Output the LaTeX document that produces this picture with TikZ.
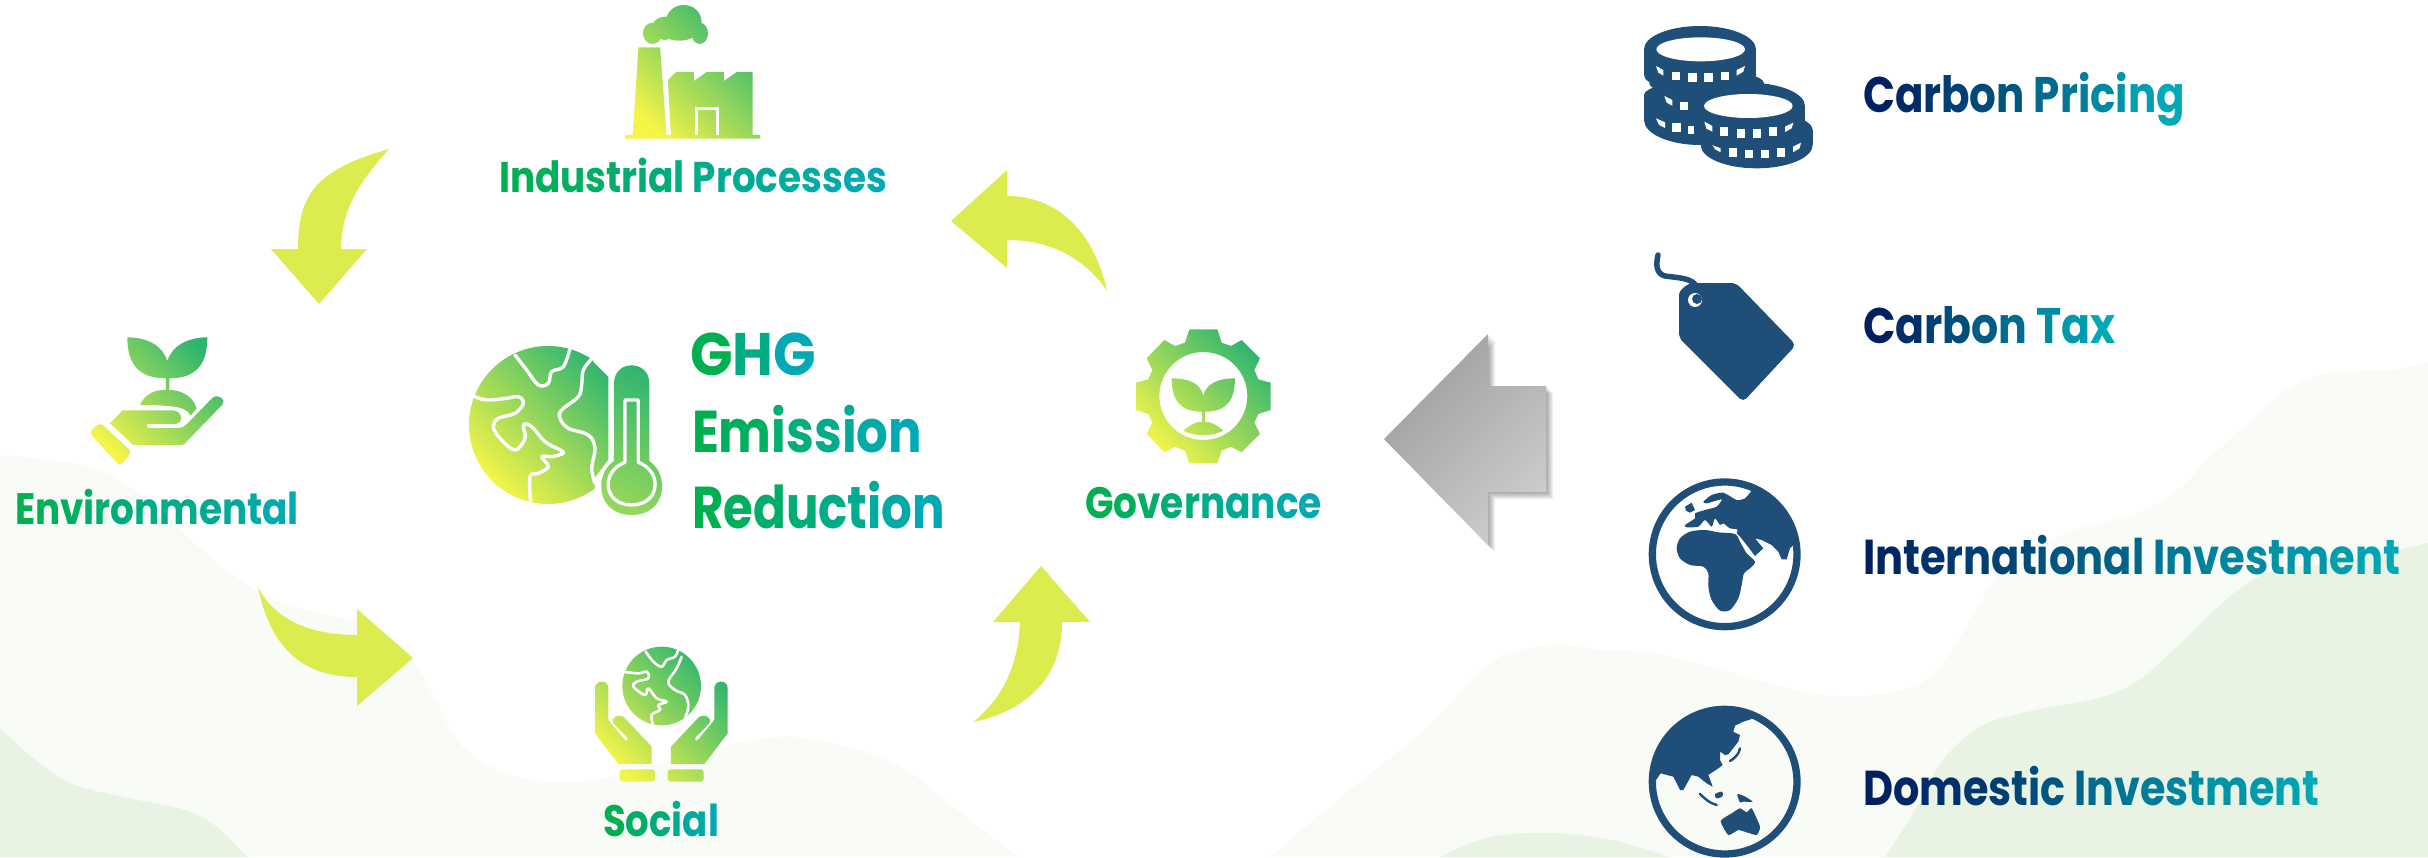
\documentclass[tikz,border=0pt]{standalone}
\usepackage{fontspec}
\usepackage{graphicx}
\setmainfont{Poppins}
\definecolor{bgA}{HTML}{F8FBF6}
\definecolor{bgB}{HTML}{E9F3E4}
\definecolor{arw}{HTML}{DCEC4E}
\definecolor{gy}{HTML}{F4F449}
\definecolor{gg}{HTML}{2FB56F}
\definecolor{gm}{HTML}{95D75C}
\definecolor{navyicon}{HTML}{1F4E79}
\definecolor{tg}{HTML}{00B050}
\definecolor{tt}{HTML}{00A9B5}
\definecolor{tn}{HTML}{002060}
\ExplSyntaxOn
\int_new:N \l_gt_i_int
\int_new:N \l_gt_n_int
\NewDocumentCommand\gtext{mmm}{
  \int_zero:N \l_gt_i_int
  \int_set:Nn \l_gt_n_int {\str_count:n{#3}}
  \str_map_inline:nn {#3} {
    \int_incr:N \l_gt_i_int
    \str_if_eq:nnTF {##1} {|} {\ } {
      \edef\gtcol{#2!\int_eval:n{100*(\l_gt_i_int-1)/(\l_gt_n_int-1)}!#1}
      \textcolor{\gtcol}{##1}
    }
  }
}
\ExplSyntaxOff
\newcommand\lab[6]{\node[lbl] (#1) at (#2,#3) {\resizebox{#4pt}{\height}{\fontsize{#5pt}{#5pt}\selectfont\bfseries\gtext#6}};}
\tikzset{
  lbl/.style={anchor=base west,inner sep=0pt,outer sep=0pt},
  grad/.style={left color=gy,right color=gg,shading angle=135},
  coast/.style={draw=white,line width=3.4pt,line cap=round,line join=round},
  bcoast/.style={draw=white,line width=2.6pt,line cap=round,line join=round},
  icon/.style={fill=navyicon},
  hole/.style={fill=white},
  swoosh/.style={fill=arw}
}
\begin{document}
\begin{tikzpicture}[x=1pt,y=-1pt]
\useasboundingbox (0,0) rectangle (2428,857);
\clip (0,0) rectangle (2428,857);
% background
\fill[bgA] (0,857) -- plot[smooth,tension=0.6] coordinates {(0,455)(64,462)(108,473)(159,510)(210,557)(255,590)(306,610)(357,623)(408,657)(434,697)(459,743)(504,773)(555,782)(612,777)(689,755)(778,737)(848,747)(906,770)(957,810)(1000,843)(1018,857)} -- cycle;
\fill[bgB] (0,857) -- plot[smooth,tension=0.6] coordinates {(0,728)(32,757)(70,783)(128,798)(185,810)(217,827)(247,857)} -- cycle;
\fill[bgA] (1270,857) -- plot[smooth,tension=0.6] coordinates {(1270,857)(1350,790)(1430,725)(1490,663)(1550,645)(1600,650)(1653,653)(1732,673)(1811,693)(1864,696)(1917,685)(1948,657)(1970,620)(1996,577)(2022,553)(2075,530)(2139,512)(2181,487)(2207,460)(2241,430)(2286,390)(2328,373)(2392,370)(2428,362)} -- (2428,857) -- cycle;
\fill[bgB] (2428,857) -- plot[smooth,tension=0.6] coordinates {(2428,543)(2339,563)(2276,570)(2234,593)(2181,643)(2139,680)(2102,697)(2022,713)(1980,727)(1943,760)(1917,807)(1885,857)} -- cycle;
\fill[bgB] (1440,857) -- plot[smooth,tension=0.6] coordinates {(1440,857)(1490,837)(1550,833)(1600,838)(1632,845)(1669,857)} -- cycle;
% swoosh arrows
\fill[swoosh] (389,149) .. controls (315,170) and (298,195) .. (298,249) -- (271,249) -- (319,304) -- (367,249) -- (341,249) .. controls (342,215) and (352,190) .. (389,149) -- cycle;
\fill[swoosh] (258,587) .. controls (275,620) and (310,635) .. (357,635) -- (357,609) -- (413,658) -- (357,706) -- (357,677) .. controls (300,677) and (270,645) .. (258,587) -- cycle;
\fill[swoosh] (973,722) .. controls (1030,710) and (1062,675) .. (1062,622) -- (1090,622) -- (1041,566) -- (993,622) -- (1020,622) .. controls (1018,670) and (1000,700) .. (973,722) -- cycle;
\fill[swoosh] (1107,291) .. controls (1095,235) and (1060,196) .. (1007,196) -- (1007,170) -- (951,221) -- (1007,268) -- (1007,240) .. controls (1050,240) and (1085,258) .. (1107,291) -- cycle;
% grey arrow
\foreach \d in {1,...,7}{
  \fill[black,opacity=0.055,shift={(\d,\d)}] (1384,439) -- (1488,334) -- (1488,386) -- (1546,386) -- (1546,492) -- (1488,492) -- (1488,545) -- cycle;
}
\shade[left color=black!38,right color=black!20,shading angle=45] (1384,439) -- (1488,334) -- (1488,386) -- (1546,386) -- (1546,492) -- (1488,492) -- (1488,545) -- cycle;
% factory
\begin{scope}[x=0.6378pt,y=-0.3333pt]
\shade[grad] (1001,142) -- (1035,142) -- (1045,405) -- (992,405) -- cycle
 (1047,240) -- (1060,216) -- (1088,216) -- (1088,243) -- (1108,216) -- (1135,216) -- (1135,243) -- (1155,216) -- (1180,216) -- (1180,405) -- (1052,405) -- cycle
 (980,405) -- (1192,405) -- (1192,416) -- (980,416) -- cycle
 (1072,65) ellipse [x radius=28,y radius=50]
 (1023,100) ellipse [x radius=15,y radius=32]
 (1042,85) ellipse [x radius=20,y radius=35]
 (1097,100) ellipse [x radius=13,y radius=32]
 (1065,100) ellipse [x radius=25,y radius=22];
\draw[white,line width=2.6pt] (1092,405) -- (1092,325) -- (1125,325) -- (1125,405);
\end{scope}
% hand with plant
\begin{scope}[shift={(70,325)},x=0.3333pt,y=-0.3333pt]
\shade[grad] (172,37) .. controls (235,37) and (280,65) .. (292,108) .. controls (305,65) and (350,37) .. (412,37) .. controls (412,110) and (385,160) .. (298,160) -- (298,195) .. controls (335,195) and (370,215) .. (380,250) -- (362,272) .. controls (350,250) and (330,240) .. (210,240) .. controls (225,205) and (260,193) .. (288,195) -- (288,160) .. controls (200,160) and (172,110) .. (172,37) -- cycle
 (120,295) -- (158,256) -- (308,256) .. controls (338,258) and (342,292) .. (318,297) -- (232,297) -- (232,309) -- (328,309) .. controls (338,309) and (345,303) .. (350,298) -- (428,218) .. controls (445,205) and (470,225) .. (458,238) -- (345,355) .. controls (340,360) and (335,360) .. (330,360) -- (190,360) -- cycle
 {[rounded corners=4pt] (57,322) -- (90,293) -- (185,380) -- (150,424) -- cycle};
\end{scope}
% earth with thermometer
\begin{scope}[shift={(460,335)},x=0.3333pt,y=-0.3333pt]
\shade[grad] (264,270) circle [radius=237];
\fill[white] (400,80) -- (445,125) -- (445,375) -- (405,428) -- (405,500) -- (640,540) -- (640,30) -- (400,30) -- cycle;
\draw[coast] plot[smooth,tension=0.6] coordinates {(165,60)(200,105)(235,150)(265,145)(275,110)(310,95)(330,40)};
\draw[coast] plot[smooth,tension=0.6] coordinates {(395,72)(370,105)(365,150)(355,185)(305,225)(300,250)(325,280)(385,300)(405,340)(395,400)(405,445)};
\draw[coast] plot[smooth,tension=0.6] coordinates {(40,183)(80,195)(140,190)(175,185)(190,205)(165,235)(115,250)(100,275)(120,310)(165,345)(195,310)(190,270)(215,275)(255,320)(300,345)(310,355)(275,365)(245,365)(265,395)(235,415)(210,425)(212,505)};
\shade[left color=gm,right color=gg,shading angle=150] (462,145) .. controls (462,73) and (568,73) .. (568,145) -- (568,378) .. controls (630,420) and (620,540) .. (515,540) .. controls (410,540) and (400,420) .. (462,378) -- cycle;
\draw[coast,line width=3.3pt] (495,382) -- (495,195) -- (535,195) -- (535,382) .. controls (610,410) and (600,510) .. (515,510) .. controls (430,510) and (420,410) .. (495,382);
\end{scope}
% social
\begin{scope}[shift={(585,640)},x=0.3333pt,y=-0.3333pt]
\shade[grad] (230,138) circle [radius=118]
 (30,145) .. controls (30,118) and (70,118) .. (70,145) -- (70,240) -- (118,298) .. controls (122,305) and (132,300) .. (126,292) -- (85,250) .. controls (75,230) and (105,218) .. (120,235) -- (200,320) -- (200,372) -- (100,372) -- (30,280) -- cycle
 (428,145) .. controls (428,118) and (388,118) .. (388,145) -- (388,240) -- (340,298) .. controls (336,305) and (326,300) .. (332,292) -- (373,250) .. controls (383,230) and (353,218) .. (338,235) -- (258,320) -- (258,372) -- (358,372) -- (428,280) -- cycle
 {[rounded corners=3pt] (104,425) -- (104,388) -- (210,388) -- (210,425) -- cycle}
 {[rounded corners=3pt] (248,425) -- (248,388) -- (356,388) -- (356,425) -- cycle};
\draw[bcoast] plot[smooth,tension=0.6] coordinates {(182,35)(205,65)(230,80)(245,60)(270,50)(280,28)};
\draw[bcoast] plot[smooth,tension=0.6] coordinates {(290,50)(275,85)(250,125)(270,150)(300,165)(310,200)(300,235)};
\draw[bcoast] plot[smooth,tension=0.6] coordinates {(115,95)(160,100)(185,95)(190,115)(155,125)(145,140)(180,165)(190,145)(215,175)(245,185)(220,195)(225,210)(200,225)(205,258)};
\end{scope}
% gear
\begin{scope}[shift={(1125,320)},x=0.3333pt,y=-0.3333pt]
\shade[grad,even odd rule] (193,28) -- (277,28) -- (290,68) -- (318,78) -- (350,60) -- (405,115) -- (388,150) -- (400,178) -- (437,188) -- (437,270) -- (400,282) -- (388,308) -- (405,342) -- (350,397) -- (318,380) -- (290,392) -- (277,430) -- (193,430) -- (180,392) -- (150,380) -- (118,397) -- (65,342) -- (82,308) -- (70,282) -- (33,270) -- (33,188) -- (70,178) -- (82,150) -- (65,115) -- (118,60) -- (150,78) -- (180,68) -- cycle
 (235,228) circle [radius=132]
 (140,175) .. controls (200,175) and (228,195) .. (235,228) .. controls (242,195) and (272,175) .. (330,175) .. controls (330,240) and (305,275) .. (240,275) -- (240,305) .. controls (258,305) and (275,315) .. (295,332) .. controls (265,350) and (205,350) .. (175,332) .. controls (195,315) and (212,305) .. (231,305) -- (231,275) .. controls (165,275) and (140,240) .. (140,175) -- cycle;
\end{scope}
% coins
\begin{scope}[shift={(1635,20)},x=0.3333pt,y=-0.3333pt]
\fill[icon] (195,88) ellipse [x radius=168,y radius=70];
\fill[icon] (27,88) rectangle (363,165);
\fill[icon] (195,165) ellipse [x radius=168,y radius=50];
\fill[icon] (215,190) ellipse [x radius=172,y radius=40];
\fill[icon] (27,225) rectangle (250,300);
\fill[icon] (195,225) ellipse [x radius=168,y radius=40];
\fill[icon] (195,300) ellipse [x radius=168,y radius=75];
\fill[icon] (340,258) ellipse [x radius=170,y radius=70];
\fill[icon] (170,258) rectangle (510,330);
\fill[icon] (365,330) ellipse [x radius=168,y radius=55];
\fill[icon] (197,330) rectangle (533,375);
\fill[icon] (365,375) ellipse [x radius=168,y radius=70];
\fill[hole] (197,88) ellipse [x radius=133,y radius=36];
\fill[hole] (340,258) ellipse [x radius=133,y radius=36];
\fill[hole] (63,138) -- (85,150) -- (85,167) -- (70,158) -- cycle;
\fill[hole] (305,150) -- (330,138) -- (325,155) -- (305,167) -- cycle;
\fill[hole] (112,155) rectangle (135,180);
\fill[hole] (160,160) rectangle (185,185);
\fill[hole] (208,160) rectangle (233,185);
\fill[hole] (257,155) rectangle (282,180);
\fill[hole] (88,228) -- (112,240) -- (112,257) -- (95,248) -- cycle;
\fill[hole] (136,245) rectangle (160,270);
\fill[hole] (63,295) -- (90,307) -- (90,324) -- (72,315) -- cycle;
\fill[hole] (112,310) rectangle (137,337);
\fill[hole] (160,317) rectangle (176,342);
\fill[hole] (208,305) -- (232,318) -- (232,335) -- (214,326) -- cycle;
\fill[hole] (256,322) rectangle (280,347);
\fill[hole] (305,328) rectangle (330,353);
\fill[hole] (353,328) rectangle (378,353);
\fill[hole] (402,322) rectangle (427,347);
\fill[hole] (450,320) -- (475,308) -- (470,325) -- (450,336) -- cycle;
\fill[hole] (232,375) -- (257,385) -- (257,397) -- (240,388) -- cycle;
\fill[hole] (282,385) rectangle (305,410);
\fill[hole] (330,390) rectangle (355,415);
\fill[hole] (378,390) rectangle (403,415);
\fill[hole] (426,385) rectangle (451,410);
\fill[hole] (474,380) -- (498,368) -- (494,385) -- (474,397) -- cycle;
\end{scope}
% tag
\draw[navyicon,line width=5.5pt,line cap=round] (1658,255) .. controls (1655,268) and (1658,274) .. (1665,276) .. controls (1680,278) and (1692,278) .. (1697,287);
\fill[icon,rounded corners=5pt] (1679,300) .. controls (1679,290) and (1688,283) .. (1698,283) -- (1736,283) -- (1796,345) -- (1743,402) -- (1679,338) -- cycle;
\fill[hole] (1695,300) circle [radius=7];
\fill[icon] (1697,299) circle [radius=5];
% globe 1
\begin{scope}[shift={(1640,470)},x=0.3333pt,y=-0.3333pt]
\draw[navyicon,line width=7.3pt] (254,253) circle [radius=217];
\begin{scope}
\clip (254,253) circle [radius=220];
\fill[icon] plot[smooth cycle,tension=0.5] coordinates {(110,235)(120,205)(150,185)(195,180)(235,187)(285,192)(300,215)(320,250)(345,275)(330,295)(312,310)(305,345)(295,385)(270,420)(240,422)(215,390)(205,350)(205,310)(190,290)(150,285)(120,265)};
\fill[icon] plot[smooth,tension=0.35] coordinates {(335,62)(315,85)(290,90)(250,68)(215,75)(190,95)(200,100)(245,88)(230,110)(195,120)(165,130)(165,145)(135,165)(140,172)(175,170)(195,150)(215,170)(225,145)(240,165)(250,160)(270,175)(292,178)(290,190)} -- (300,200) -- (320,225) -- (345,258) -- (370,235) -- (345,205) -- (365,210) -- (395,225) -- (415,245) -- (425,268) -- (440,268) -- (450,235) -- (460,225) -- (520,200) -- (520,30) -- (335,30) -- cycle;
\fill[icon] (135,110) -- (155,98) -- (165,120) -- (150,128) -- (138,122) -- cycle;
\end{scope}
\end{scope}
% globe 2
\begin{scope}[shift={(1640,695)},x=0.3333pt,y=-0.3333pt]
\draw[navyicon,line width=7.3pt] (254,260) circle [radius=217];
\begin{scope}
\clip (254,260) circle [radius=220];
\fill[icon] (335,72) -- (310,80) -- (285,92) -- (280,110) -- (300,120) -- (295,140) -- (265,178) -- (255,180) -- (240,170) -- (240,195) -- (248,210) -- (235,220) -- (205,240) -- (218,275) -- (200,265) -- (175,245) -- (155,240) -- (130,285) -- (120,285) -- (100,245) -- (62,235) -- (48,255) -- (0,255) -- (0,0) -- (335,0) -- cycle;
\end{scope}
\draw[navyicon,line width=2.4pt,line cap=round] (300,160) .. controls (298,175) and (285,190) .. (270,198);
\draw[navyicon,line width=2.4pt,line cap=round] (180,297) .. controls (195,312) and (210,325) .. (230,330);
\fill[icon] plot[smooth cycle,tension=0.6] coordinates {(245,290)(248,303)(230,310)(225,298)};
\fill[icon] plot[smooth cycle,tension=0.4] coordinates {(292,298)(310,302)(338,320)(310,320)(300,322)};
\fill[icon] plot[smooth cycle,tension=0.3] coordinates {(242,378)(275,355)(300,340)(320,352)(335,340)(360,395)(350,420)(320,412)(295,405)(265,420)};
\end{scope}
% labels
\lab{industrial}{499}{192}{388}{43}{{tg}{tt}{Industrial|Processes}}
\lab{environmental}{15}{524}{284}{44}{{tg}{tt}{Environmental}}
\lab{ghg}{690}{375}{126}{60}{{tg}{tt}{GHG}}
\lab{emission}{692}{452}{230}{59}{{tg}{tt}{Emission}}
\lab{reduction}{692}{528}{253}{59}{{tg}{tt}{Reduction}}
\lab{social}{603}{836}{116}{44}{{tg}{tt}{Social}}
\lab{governance}{1085}{518}{237}{44}{{tg}{tt}{Governance}}
\lab{pricing}{1863}{112}{322}{50}{{tn}{tt}{Carbon|Pricing}}
\lab{tax}{1863}{343}{253}{50}{{tn}{tt}{Carbon|Tax}}
\lab{intl}{1863}{574}{537}{49}{{tn}{tt}{International|Investment}}
\lab{domestic}{1863}{805}{456}{49}{{tn}{tt}{Domestic|Investment}}
\end{tikzpicture}
\end{document}
